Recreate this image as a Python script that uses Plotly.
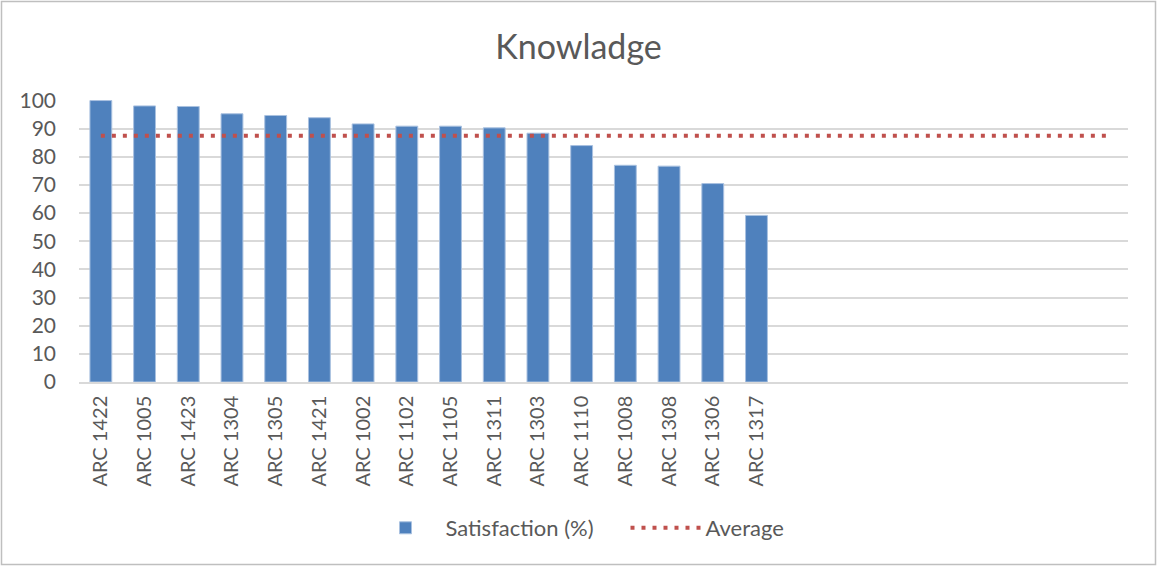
import plotly.graph_objects as go

categories = ["ARC 1422", "ARC 1005", "ARC 1423", "ARC 1304", "ARC 1305", "ARC 1421",
              "ARC 1002", "ARC 1102", "ARC 1105", "ARC 1311", "ARC 1303", "ARC 1110",
              "ARC 1008", "ARC 1308", "ARC 1306", "ARC 1317"]
satisfaction = [100, 98.1, 97.9, 95.3, 94.7, 93.9, 91.7, 90.9, 90.9, 90.3, 88.4, 84.0,
                77.0, 76.7, 70.5, 59.2]
n_slots = 24  # total category slots on the axis (last ones empty)
average_value = 87.5
average = [average_value] * n_slots
y_ticks = [0, 10, 20, 30, 40, 50, 60, 70, 80, 90, 100]

W, H = 1157, 566
L, R, T, B = 79, 29, 100, 184
FONT = "Lato"
GREY = "#595959"

fig = go.Figure()
fig.add_trace(go.Bar(
    x=list(range(len(categories))), y=satisfaction, name="Satisfaction (%)",
    width=0.5, marker=dict(color="#4f81bd", line=dict(color="#a9c1e0", width=1)),
))
fig.add_trace(go.Scatter(
    x=list(range(n_slots)), y=average, name="Average", mode="lines",
    line=dict(color="#c0504d", width=4, dash="4px,7px"),
))

pw = W - L - R
ph = H - T - B
fig.add_shape(type="rect", xref="paper", yref="paper",
              x0=(-L + 1.5) / pw, x1=1 + (R - 1.5) / pw,
              y0=-(B - 1.5) / ph, y1=1 + (T - 1.5) / ph,
              line=dict(color="#bfbfbf", width=1.5), fillcolor="rgba(0,0,0,0)", layer="below")

fig.update_layout(
    width=W, height=H,
    margin=dict(l=L, r=R, t=T, b=B),
    paper_bgcolor="white", plot_bgcolor="white",
    font=dict(family=FONT, color=GREY, size=21),
    title=dict(text="Knowladge", x=0.5, xanchor="center", y=1 - 47 / H, yanchor="middle",
               font=dict(size=34, color=GREY, family=FONT)),
    xaxis=dict(range=[-0.5, n_slots - 0.5], tickmode="array",
               tickvals=list(range(len(categories))), ticktext=categories,
               tickangle=-90, showgrid=False, zeroline=False,
               showline=True, linecolor="#d9d9d9", linewidth=1.5,
               ticks="", tickfont=dict(size=20, color=GREY), ticklabelstandoff=4),
    yaxis=dict(range=[0, 100.2], tickvals=y_ticks, showgrid=True, gridcolor="#d9d9d9",
               gridwidth=1.5, zeroline=False, showline=False, ticks="",
               tickfont=dict(size=21, color=GREY), ticklabelstandoff=22),
    legend=dict(orientation="h", x=0.5 + 22 / pw, xanchor="center", y=-(528 - T - ph) / ph,
                yanchor="middle", font=dict(size=22, color=GREY), itemwidth=70,
                entrywidth=175, traceorder="normal"),
    showlegend=True,
    bargap=0.5,
)

fig.write_html("out.html", config={"displayModeBar": False},
               post_script="document.body.style.margin='0';document.body.style.overflow='hidden';")
